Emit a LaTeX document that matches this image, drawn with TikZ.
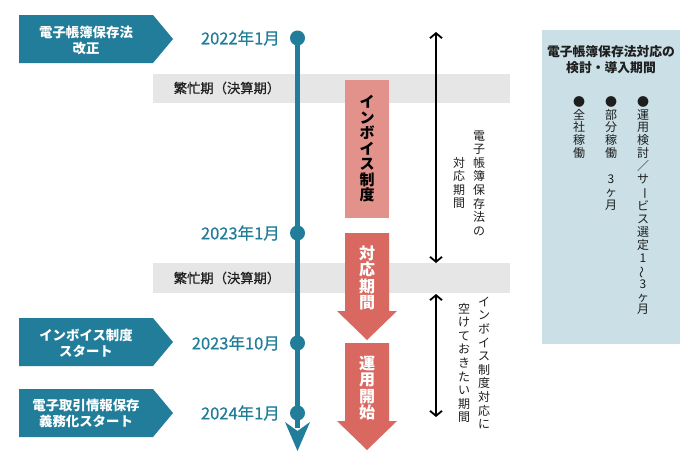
\documentclass[tikz,border=0pt]{standalone}
\usepackage{fontspec}
\newfontfamily\jp{Noto Sans CJK JP}
\newfontfamily\jpm{Noto Sans CJK JP}[FakeBold=0.6]
\usetikzlibrary{arrows.meta}
\definecolor{teal1}{RGB}{33,125,153}
\definecolor{bandgray}{RGB}{230,230,230}
\definecolor{pinkbox}{RGB}{226,146,139}
\definecolor{redarrow}{RGB}{217,104,96}
\definecolor{panelblue}{RGB}{202,224,230}
\definecolor{ink}{RGB}{30,30,30}
\newcommand{\rotch}[1]{\rotatebox[origin=c]{-90}{#1}}
\newcommand{\rotwave}[1]{\rotatebox[origin=c]{90}{#1}}
\begin{document}
\begin{tikzpicture}[x=1pt,y=-1pt,
  banner/.style={fill=teal1},
  bannertext/.style={text=white, font=\jp\bfseries\fontsize{13.4}{16}\selectfont, align=center, inner sep=0},
  datelabel/.style={text=teal1, font=\jpm\fontsize{16.5}{18}\selectfont, anchor=east, inner sep=0},
  tdot/.style={circle, fill=teal1, minimum size=15pt, inner sep=0},
  tline/.style={draw=teal1, line width=4.5pt},
  bandbox/.style={fill=bandgray},
  bandtext/.style={text=ink, font=\jpm\fontsize{13.3}{14}\selectfont, inner sep=0},
  vtext/.style={font=\jp\fontsize{12}{13.6}\selectfont, text=ink, align=center, inner sep=0},
  pvtext/.style={font=\jp\fontsize{12}{12.9}\selectfont, text=ink, align=center, inner sep=0, anchor=north},
  pinktext/.style={font=\jp\bfseries\fontsize{15}{15.5}\selectfont, text=black, align=center, inner sep=0},
  arrowtext/.style={font=\jp\bfseries\fontsize{16}{16.5}\selectfont, text=white, align=center, inner sep=0},
  spanarrow/.style={draw=black, line width=1.8pt, {Straight Barb[length=5pt,width=12pt]}-{Straight Barb[length=5pt,width=12pt]}},
  titletext/.style={font=\jp\bfseries\fontsize{12.8}{16}\selectfont, text=ink, align=center, inner sep=0}
]
\useasboundingbox (0,0) rectangle (700,466);
\fill[white] (0,0) rectangle (700,466);

% busy-season bands
\fill[bandbox] (153,74) rectangle (510,103);
\fill[bandbox] (153,263) rectangle (510,293);
\node[bandtext] (b1) at (227,88) {繁忙期（決算期）};
\node[bandtext] (b2) at (227,278) {繁忙期（決算期）};

% right panel
\fill[panelblue] (542,30) rectangle (680,344);
\node[titletext] (ptitle) at (611,60) {電子帳簿保存法対応の\\検討・導入期間};
\node[pvtext] (pc1) at (643,96) {●\\運\\用\\検\\討\\／\\サ\\\rotch{ー}\\ビ\\ス\\選\\定\\1\\\rotwave{～}\\3\\ヶ\\月};
\node[pvtext] (pc2) at (611,96) {●\\部\\分\\稼\\働\\　\\3\\ヶ\\月};
\node[pvtext] (pc3) at (579,96) {●\\全\\社\\稼\\働};

% span arrows
\coordinate (s1a) at (436,32);
\coordinate (s1b) at (436,263);
\coordinate (s2a) at (436,294);
\coordinate (s2b) at (436,417);
\draw[spanarrow] (s1a) -- (s1b);
\draw[spanarrow] (s2a) -- (s2b);
\node[vtext] (v1a) at (479,183) {電\\子\\帳\\簿\\保\\存\\法\\の};
\node[vtext] (v1b) at (459,183) {対\\応\\期\\間};
\node[vtext] (v2a) at (484,363) {イ\\ン\\ボ\\イ\\ス\\制\\度\\対\\応\\に};
\node[vtext] (v2b) at (464,363) {空\\け\\て\\お\\き\\た\\い\\期\\間};

% timeline
\node[tdot] (d1) at (297.5,38) {};
\node[tdot] (d2) at (297.5,233) {};
\node[tdot] (d3) at (297.5,343) {};
\node[tdot] (d4) at (297.5,413) {};
\coordinate (tend) at (297.5,428);
\draw[tline] (d1.center) -- (tend);
\fill[teal1] (285,422) -- (297.5,431) -- (310,422) -- (297.5,451) -- cycle;

\node[datelabel] (t1) at (280,38) {2022年1月};
\node[datelabel] (t2) at (280,233) {2023年1月};
\node[datelabel] (t3) at (280,343) {2023年10月};
\node[datelabel] (t4) at (280,413) {2024年1月};

% banners
\fill[banner] (19,15) -- (153,15) -- (173,39) -- (153,63) -- (19,63) -- cycle;
\fill[banner] (19,318) -- (153,318) -- (173,342) -- (153,366) -- (19,366) -- cycle;
\fill[banner] (19,389) -- (153,389) -- (173,413) -- (153,437) -- (19,437) -- cycle;
\node[bannertext] (n1) at (86,40) {電子帳簿保存法\\改正};
\node[bannertext] (n2) at (86,343) {インボイス制度\\スタート};
\node[bannertext] (n3) at (86,413) {電子取引情報保存\\義務化スタート};

% invoice box and arrows
\fill[pinkbox] (345,80) rectangle (389,218);
\node[pinktext] (inv) at (367,149) {イ\\ン\\ボ\\イ\\ス\\制\\度};
\fill[redarrow] (345,233) -- (389,233) -- (389,311) -- (397,311) -- (367,340) -- (337,311) -- (345,311) -- cycle;
\fill[redarrow] (345,343) -- (389,343) -- (389,421) -- (397,421) -- (367,450) -- (337,421) -- (345,421) -- cycle;
\node[arrowtext] (ar1) at (367,278) {対\\応\\期\\間};
\node[arrowtext] (ar2) at (367,388) {運\\用\\開\\始};
\end{tikzpicture}
\end{document}
